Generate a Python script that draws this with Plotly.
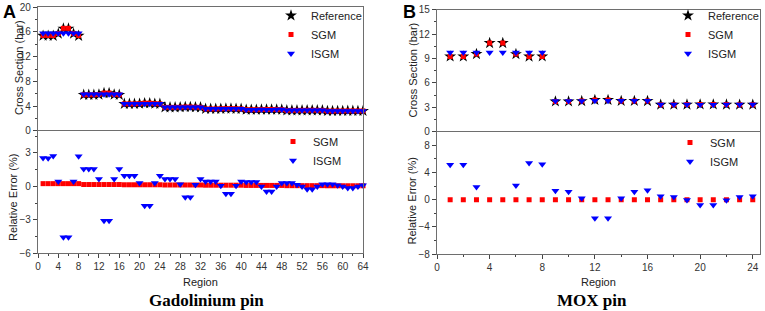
import plotly.graph_objects as go

# ---------------- Data: Gadolinium pin (64 regions) ----------------
regions_gd = list(range(1, 65))
ref_gd = [15.40, 15.40, 15.38, 15.72, 16.55, 16.55, 15.72, 15.38,
          5.81, 5.81, 5.81, 5.86, 6.09, 6.09, 5.86, 5.81,
          4.34, 4.34, 4.34, 4.37, 4.45, 4.45, 4.37, 4.34,
          3.78, 3.78, 3.78, 3.80, 3.84, 3.84, 3.80, 3.78,
          3.53, 3.53, 3.53, 3.55, 3.57, 3.57, 3.55, 3.53,
          3.40, 3.40, 3.40, 3.42, 3.43, 3.43, 3.42, 3.41,
          3.29, 3.29, 3.30, 3.30, 3.31, 3.31, 3.30, 3.29,
          3.19, 3.19, 3.20, 3.20, 3.21, 3.21, 3.20, 3.20]
sgm_gd = [15.44, 15.44, 15.42, 15.76, 16.59, 16.59, 15.76, 15.42,
          5.82, 5.82, 5.82, 5.87, 6.10, 6.10, 5.87, 5.82,
          4.35, 4.35, 4.35, 4.38, 4.46, 4.46, 4.38, 4.35,
          3.785, 3.785, 3.785, 3.805, 3.845, 3.845, 3.805, 3.785,
          3.534, 3.534, 3.534, 3.554, 3.574, 3.574, 3.554, 3.534,
          3.403, 3.403, 3.403, 3.423, 3.433, 3.433, 3.423, 3.413,
          3.292, 3.292, 3.302, 3.302, 3.312, 3.312, 3.302, 3.292,
          3.192, 3.192, 3.202, 3.202, 3.212, 3.212, 3.202, 3.202]
isgm_gd = [15.79, 15.79, 15.80, 15.79, 15.79, 15.79, 15.79, 15.80,
           5.90, 5.90, 5.90, 5.90, 5.90, 5.90, 5.90, 5.90,
           4.38, 4.38, 4.38, 4.38, 4.37, 4.37, 4.38, 4.38,
           3.80, 3.80, 3.80, 3.81, 3.80, 3.80, 3.81, 3.80,
           3.55, 3.55, 3.55, 3.55, 3.55, 3.55, 3.55, 3.55,
           3.41, 3.41, 3.41, 3.42, 3.41, 3.41, 3.42, 3.42,
           3.30, 3.30, 3.30, 3.30, 3.30, 3.30, 3.30, 3.30,
           3.20, 3.20, 3.20, 3.20, 3.21, 3.21, 3.20, 3.20]
sgm_err_gd = [0.25, 0.25, 0.25, 0.25, 0.25, 0.25, 0.25, 0.25,
              0.17, 0.17, 0.17, 0.17, 0.17, 0.17, 0.17, 0.17,
              0.15, 0.15, 0.15, 0.15, 0.15, 0.15, 0.15, 0.15,
              0.13, 0.13, 0.13, 0.13, 0.13, 0.13, 0.13, 0.13,
              0.11, 0.11, 0.11, 0.11, 0.11, 0.11, 0.11, 0.11,
              0.09, 0.09, 0.09, 0.09, 0.09, 0.09, 0.09, 0.09,
              0.07, 0.07, 0.07, 0.07, 0.07, 0.07, 0.07, 0.07,
              0.06, 0.06, 0.06, 0.06, 0.06, 0.06, 0.06, 0.06]
isgm_err_gd = [2.55, 2.52, 2.72, 0.45, -4.57, -4.57, 0.45, 2.70,
               1.56, 1.56, 1.56, 0.66, -3.07, -3.07, 0.66, 1.56,
               0.96, 0.96, 0.96, 0.30, -1.73, -1.73, 0.30, 0.96,
               0.66, 0.66, 0.66, 0.20, -0.98, -0.98, 0.15, 0.66,
               0.45, 0.45, 0.45, 0.05, -0.65, -0.65, 0.05, 0.45,
               0.40, 0.40, 0.40, 0.00, -0.45, -0.45, 0.00, 0.30,
               0.30, 0.30, 0.15, 0.00, -0.25, -0.25, 0.00, 0.20,
               0.20, 0.20, 0.10, 0.00, -0.15, -0.15, 0.00, 0.10]

# ---------------- Data: MOX pin (24 regions) ----------------
regions_mox = list(range(1, 25))
ref_mox = [9.25, 9.25, 9.55, 10.90, 10.90, 9.54, 9.24, 9.26,
           3.72, 3.72, 3.76, 3.90, 3.90, 3.78, 3.78, 3.77,
           3.32, 3.32, 3.33, 3.35, 3.35, 3.33, 3.32, 3.32]
sgm_mox = [9.25, 9.25, 9.55, 10.90, 10.90, 9.54, 9.24, 9.26,
           3.72, 3.72, 3.76, 3.90, 3.90, 3.78, 3.78, 3.77,
           3.32, 3.32, 3.33, 3.35, 3.35, 3.33, 3.32, 3.32]
isgm_mox = [9.73, 9.73, 9.73, 9.73, 9.73, 9.74, 9.74, 9.74,
            3.77, 3.76, 3.77, 3.79, 3.79, 3.79, 3.82, 3.82,
            3.34, 3.33, 3.33, 3.32, 3.32, 3.33, 3.33, 3.34]
sgm_err_mox = [0.0, 0.0, 0.0, 0.0, 0.0, 0.0, 0.0, 0.0,
               0.0, 0.0, 0.0, 0.0, 0.0, 0.0, 0.0, 0.0,
               0.0, 0.0, 0.0, 0.0, 0.0, 0.0, 0.0, 0.0]
isgm_err_mox = [5.14, 5.14, 1.86, -10.7, -10.7, 2.10, 5.40, 5.20,
                1.32, 1.17, 0.20, -2.74, -2.74, 0.20, 1.17, 1.37,
                0.50, 0.40, -0.05, -0.78, -0.78, -0.10, 0.40, 0.50]

# ---------------- Figure ----------------
W, H = 765, 311
SANS = "Liberation Sans, Arial, sans-serif"
SERIF = "Liberation Serif, Times New Roman, serif"
AX = "#6e6e6e"

def px_x(p):
    return p / W

def px_y(p):
    return 1 - p / H

fig = go.Figure()

star = dict(symbol="star", size=9, color="black", line=dict(width=0))
sq = dict(symbol="square", size=5, color="red", line=dict(width=0))
tri = dict(symbol="triangle-down", size=7, color="blue", line=dict(width=0))

# Panel A top
fig.add_trace(go.Scatter(x=regions_gd, y=ref_gd, mode="markers", marker=star, name="Reference",
                         xaxis="x", yaxis="y", legend="legend", cliponaxis=False))
fig.add_trace(go.Scatter(x=regions_gd, y=sgm_gd, mode="markers", marker=sq, name="SGM",
                         xaxis="x", yaxis="y", legend="legend", cliponaxis=False))
fig.add_trace(go.Scatter(x=regions_gd, y=isgm_gd, mode="markers", marker=tri, name="ISGM",
                         xaxis="x", yaxis="y", legend="legend", cliponaxis=False))
# Panel A bottom
fig.add_trace(go.Scatter(x=regions_gd, y=sgm_err_gd, mode="markers", marker=sq, name="SGM",
                         xaxis="x2", yaxis="y2", legend="legend2", cliponaxis=False))
fig.add_trace(go.Scatter(x=regions_gd, y=isgm_err_gd, mode="markers", marker=tri, name="ISGM",
                         xaxis="x2", yaxis="y2", legend="legend2", cliponaxis=False))
# Panel B top
fig.add_trace(go.Scatter(x=regions_mox, y=ref_mox, mode="markers", marker=star, name="Reference",
                         xaxis="x3", yaxis="y3", legend="legend3"))
fig.add_trace(go.Scatter(x=regions_mox, y=sgm_mox, mode="markers", marker=sq, name="SGM",
                         xaxis="x3", yaxis="y3", legend="legend3"))
fig.add_trace(go.Scatter(x=regions_mox, y=isgm_mox, mode="markers", marker=tri, name="ISGM",
                         xaxis="x3", yaxis="y3", legend="legend3"))
# Panel B bottom
fig.add_trace(go.Scatter(x=regions_mox, y=sgm_err_mox, mode="markers", marker=sq, name="SGM",
                         xaxis="x4", yaxis="y4", legend="legend4"))
fig.add_trace(go.Scatter(x=regions_mox, y=isgm_err_mox, mode="markers", marker=tri, name="ISGM",
                         xaxis="x4", yaxis="y4", legend="legend4"))

tickfont = dict(family=SANS, size=10, color="#333333")

def yaxis(domain, rng, dtick, minor_dtick, anchor):
    return dict(domain=domain, range=rng, dtick=dtick, tick0=0, anchor=anchor,
                showline=True, linecolor=AX, linewidth=1.3, mirror=True,
                ticks="outside", ticklen=4, tickwidth=1, tickcolor="#444444",
                minor=dict(dtick=minor_dtick, ticks="outside", ticklen=2, tickcolor="#444444"),
                showgrid=False, zeroline=False, tickfont=tickfont)

def xaxis_top(domain, rng, anchor):
    # only draws the top frame line; the bottom frame comes from the lower panel
    return dict(domain=domain, range=rng, anchor=anchor, side="top",
                showline=True, linecolor=AX, linewidth=1.3, mirror=False,
                ticks="", showticklabels=False, showgrid=False, zeroline=False)

def xaxis_bot(domain, rng, anchor):
    return dict(domain=domain, range=rng, dtick=4, tick0=0, anchor=anchor,
                showline=True, linecolor=AX, linewidth=1.3, mirror=True,
                ticks="outside", ticklen=4, tickwidth=1, tickcolor="#444444",
                minor=dict(dtick=2, ticks="outside", ticklen=2, tickcolor="#444444"),
                showgrid=False, zeroline=False, tickfont=tickfont)

xa = [px_x(38), px_x(363)]
xb = [px_x(437), px_x(760)]
ya_top = [px_y(130.7), px_y(7.3)]
ya_bot = [px_y(253.3), px_y(130.7)]
yb_top = [px_y(131.7), px_y(9.7)]
yb_bot = [px_y(254.0), px_y(131.7)]

legend_common = dict(bgcolor="rgba(0,0,0,0)", borderwidth=0,
                     font=dict(family=SANS, size=11, color="#222222"),
                     xanchor="left", yanchor="top", itemwidth=30, tracegroupgap=0)

fig.update_layout(
    width=W, height=H,
    margin=dict(l=0, r=0, t=0, b=0, autoexpand=False),
    paper_bgcolor="white", plot_bgcolor="white",
    xaxis=xaxis_top(xa, [0, 64], "y"),
    yaxis=yaxis(ya_top, [0, 20], 4, 2, "x"),
    xaxis2=xaxis_bot(xa, [0, 64], "y2"),
    yaxis2=yaxis(ya_bot, [-6, 5], 3, 1.5, "x2"),
    xaxis3=xaxis_top(xb, [0, 24.55], "y3"),
    yaxis3=yaxis(yb_top, [0, 15], 3, 1.5, "x3"),
    xaxis4=xaxis_bot(xb, [0, 24.55], "y4"),
    yaxis4=yaxis(yb_bot, [-8, 10], 4, 2, "x4"),
    legend=dict(x=px_x(271), y=px_y(1), **legend_common),
    legend2=dict(x=px_x(273), y=px_y(127), **legend_common),
    legend3=dict(x=px_x(668), y=px_y(1), **legend_common),
    legend4=dict(x=px_x(670), y=px_y(128), **legend_common),
    showlegend=True,
)

ann = []
def text(x, y, s, size=11, angle=0, family=SANS, bold=False, color="#222222"):
    ann.append(dict(x=px_x(x), y=px_y(y), xref="paper", yref="paper", showarrow=False,
                    text=f"<b>{s}</b>" if bold else s, textangle=angle,
                    font=dict(family=family, size=size, color=color),
                    xanchor="center", yanchor="middle"))

text(9, 12, "A", size=18, bold=True, color="black")
text(409, 12, "B", size=18, bold=True, color="black")
text(19, 68, "Cross Section (bar)", angle=-90)
text(12.5, 197.5, "Relative Error (%)", angle=-90)
text(412.5, 70, "Cross Section (bar)", angle=-90)
text(411.7, 200.8, "Relative Error (%)", angle=-90)
text(200.5, 281.7, "Region")
text(598.5, 281.7, "Region")
text(206, 300, "Gadolinium pin", size=17, family=SERIF, bold=True, color="black")
text(592, 300, "MOX pin", size=17, family=SERIF, bold=True, color="black")
fig.update_layout(annotations=ann)

# remove the browser's default 8px body margin so the figure sits at the window origin
fig.write_html("out.html", config={"displayModeBar": False},
               post_script="document.body.style.margin='0';document.body.style.overflow='hidden';")
